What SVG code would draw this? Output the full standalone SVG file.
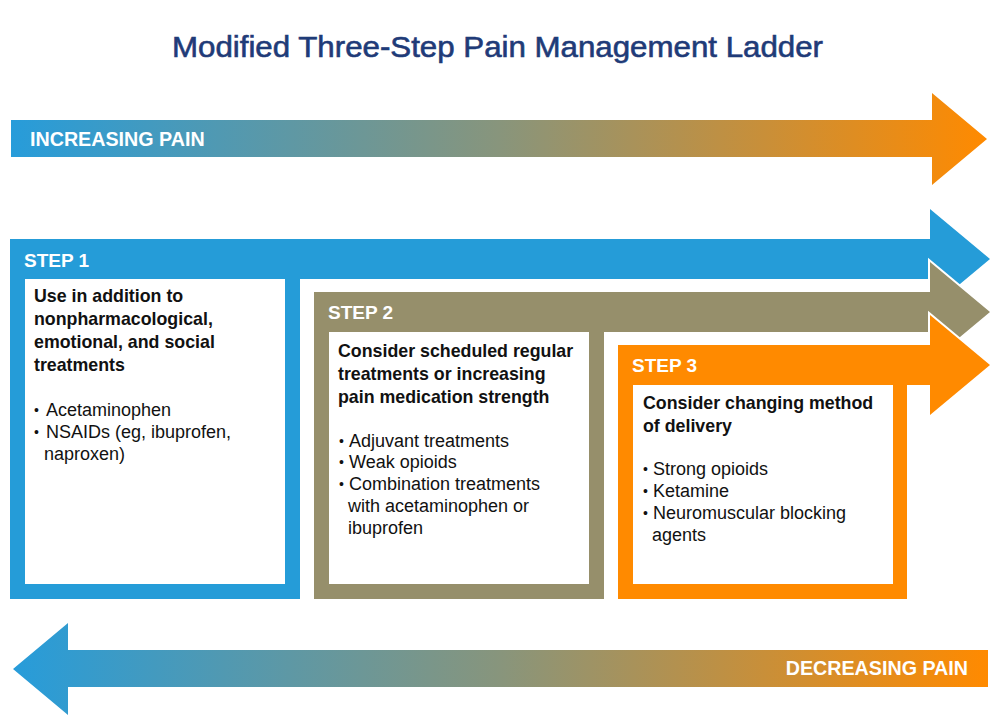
<svg xmlns="http://www.w3.org/2000/svg" width="997" height="725" viewBox="0 0 997 725">
<defs>
<linearGradient id="gInc" gradientUnits="userSpaceOnUse" x1="11" y1="0" x2="987" y2="0">
<stop offset="0" stop-color="#279CDA"/>
<stop offset="0.5" stop-color="#88957C"/>
<stop offset="1" stop-color="#FF8A00"/>
</linearGradient>
<linearGradient id="gDec" gradientUnits="userSpaceOnUse" x1="13" y1="0" x2="988" y2="0">
<stop offset="0" stop-color="#279CDA"/>
<stop offset="0.5" stop-color="#88957C"/>
<stop offset="1" stop-color="#FF8A00"/>
</linearGradient>
<style>
text{font-family:"Liberation Sans",Arial,Helvetica,sans-serif;}
.title{font-size:29px;fill:#1F3B78;stroke:#1F3B78;stroke-width:0.6;}
.band{font-size:19.7px;font-weight:bold;fill:#FFFFFF;}
.step{font-size:19px;font-weight:bold;fill:#FFFFFF;}
.head{font-size:17.8px;font-weight:bold;fill:#111111;}
.item{font-size:18px;fill:#111111;}
.dot{font-size:14px;fill:#111111;}
.frame{stroke:#FFFFFF;stroke-width:4;paint-order:stroke;stroke-linejoin:miter;}
</style>
</defs>
<rect width="997" height="725" fill="#FFFFFF"/>
<text class="title" x="172" y="57" textLength="651" lengthAdjust="spacingAndGlyphs">Modified Three-Step Pain Management Ladder</text>

<g id="connectors">
<g id="increasing-pain">
<polygon points="11,120 932,120 932,93 987,139 932,185 932,157 11,157" fill="url(#gInc)"/>
<text class="band" x="30" y="146">INCREASING PAIN</text>
</g>
<g id="decreasing-pain">
<polygon points="988,650 68,650 68,623 13,669 68,715 68,687 988,687" fill="url(#gDec)"/>
<text class="band" x="968" y="675" text-anchor="end">DECREASING PAIN</text>
</g>
</g>

<g id="step1">
<polygon class="frame" points="10,239 930,239 930,209 990,259 930,309 930,279 300,279 300,599 10,599" fill="#259CD8"/>
<rect x="25" y="279" width="260" height="305" fill="#FFFFFF"/>
<text class="step" x="24" y="267">STEP 1</text>
<text class="head" x="34" y="302">Use in addition to</text>
<text class="head" x="34" y="325">nonpharmacological,</text>
<text class="head" x="34" y="348">emotional, and social</text>
<text class="head" x="34" y="371">treatments</text>
<text class="dot" x="34" y="415">•</text><text class="item" x="46" y="416">Acetaminophen</text>
<text class="dot" x="34" y="437">•</text><text class="item" x="46" y="438">NSAIDs (eg, ibuprofen,</text>
<text class="item" x="44" y="460">naproxen)</text>
</g>

<g id="step2">
<polygon class="frame" points="314,292 930,292 930,262 990,312 930,362 930,332 604,332 604,599 314,599" fill="#968F6B"/>
<rect x="329" y="332" width="260" height="252" fill="#FFFFFF"/>
<text class="step" x="328" y="319">STEP 2</text>
<text class="head" x="338" y="357">Consider scheduled regular</text>
<text class="head" x="338" y="380">treatments or increasing</text>
<text class="head" x="338" y="403">pain medication strength</text>
<text class="dot" x="339" y="446">•</text><text class="item" x="349" y="447">Adjuvant treatments</text>
<text class="dot" x="339" y="467">•</text><text class="item" x="349" y="468">Weak opioids</text>
<text class="dot" x="339" y="489">•</text><text class="item" x="349" y="490">Combination treatments</text>
<text class="item" x="348" y="512">with acetaminophen or</text>
<text class="item" x="348" y="534">ibuprofen</text>
</g>

<g id="step3">
<polygon class="frame" points="618,345 930,345 930,315 990,365 930,415 930,385 907,385 907,599 618,599" fill="#FF8A00"/>
<rect x="633" y="385" width="260" height="199" fill="#FFFFFF"/>
<text class="step" x="632" y="372">STEP 3</text>
<text class="head" x="643" y="409">Consider changing method</text>
<text class="head" x="643" y="432">of delivery</text>
<text class="dot" x="643" y="474">•</text><text class="item" x="653" y="475">Strong opioids</text>
<text class="dot" x="643" y="496">•</text><text class="item" x="653" y="497">Ketamine</text>
<text class="dot" x="643" y="518">•</text><text class="item" x="653" y="519">Neuromuscular blocking</text>
<text class="item" x="652" y="541">agents</text>
</g>
</svg>
